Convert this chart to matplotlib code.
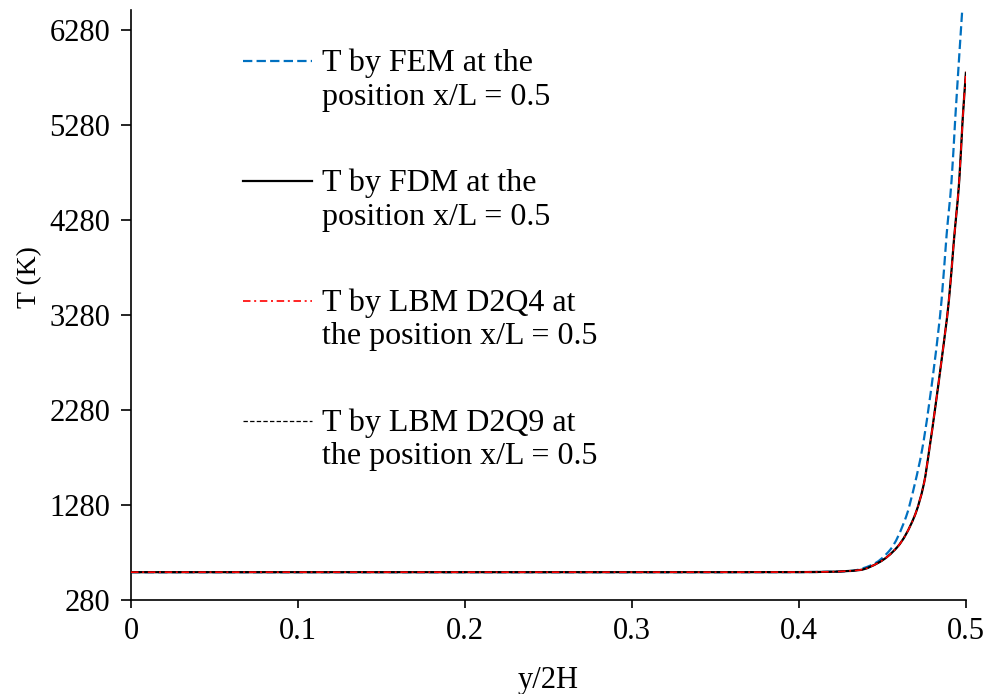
import matplotlib
matplotlib.use("Agg")
import numpy as np
import matplotlib.pyplot as plt
from matplotlib.lines import Line2D
from matplotlib.path import Path
from matplotlib.patches import PathPatch
from matplotlib.legend_handler import HandlerLine2D

plt.rcParams['font.family'] = ['Liberation Serif', 'DejaVu Serif']

# Temperature profiles along y/2H at x/L = 0.5
y_fdm = [0.0, 0.1, 0.2, 0.3, 0.4, 0.42, 0.4365, 0.4478, 0.4590, 0.4690, 0.4749,
         0.4780, 0.4854, 0.4898, 0.4928, 0.4960, 0.4980, 0.5]
t_fdm = [573, 573, 573, 573, 574, 578, 596, 675, 840, 1154, 1512,
         1859, 2806, 3438, 4069, 4701, 5333, 5840]

y_fem = [0.0, 0.1, 0.2, 0.3, 0.4, 0.42, 0.4305, 0.4435, 0.4545, 0.4641, 0.4695,
         0.4737, 0.4814, 0.4854, 0.4884, 0.4914, 0.4936, 0.4978]
t_fem = [573, 573, 573, 573, 574, 578, 585, 648, 806, 1154, 1512,
         1859, 2806, 3438, 4122, 4701, 5354, 6500]

y_d2q4 = y_fdm
t_d2q4 = [573, 573, 573, 573, 574, 578, 596, 675, 840, 1154, 1512,
          1859, 2806, 3438, 4069, 4701, 5333, 5840]

y_d2q9 = y_fdm
t_d2q9 = [573, 573, 573, 573, 574, 578, 596, 675, 840, 1154, 1512,
          1859, 2806, 3438, 4069, 4701, 5333, 5840]

labels = ["T by FEM at the\nposition x/L = 0.5",
          "T by FDM at the\nposition x/L = 0.5",
          "T by LBM D2Q4 at\nthe position x/L = 0.5",
          "T by LBM D2Q9 at\nthe position x/L = 0.5"]

x_ticks = [0, 0.1, 0.2, 0.3, 0.4, 0.5]
x_ticklabels = ["0", "0.1", "0.2", "0.3", "0.4", "0.5"]
y_ticks = [280, 1280, 2280, 3280, 4280, 5280, 6280]


def pchip_slopes(x, y):
    """Shape-preserving (Fritsch-Carlson) tangents at each point."""
    h = np.diff(x)
    d = np.diff(y) / h
    m = np.zeros_like(y)
    for i in range(1, len(x) - 1):
        if d[i - 1] * d[i] <= 0:
            m[i] = 0.0
        else:
            w1 = 2 * h[i] + h[i - 1]
            w2 = h[i] + 2 * h[i - 1]
            m[i] = (w1 + w2) / (w1 / d[i - 1] + w2 / d[i])
    m[0] = d[0]
    m[-1] = d[-1]
    return m


def smooth_path(xs, ys):
    """Smoothed Bezier path running through every data point."""
    x = np.asarray(xs, float)
    y = np.asarray(ys, float)
    m = pchip_slopes(x, y)
    verts = [(x[0], y[0])]
    codes = [Path.MOVETO]
    for i in range(len(x) - 1):
        h = x[i + 1] - x[i]
        verts += [(x[i] + h / 3, y[i] + m[i] * h / 3),
                  (x[i + 1] - h / 3, y[i + 1] - m[i + 1] * h / 3),
                  (x[i + 1], y[i + 1])]
        codes += [Path.CURVE4] * 3
    return Path(verts, codes)


styles = {
    'fem': dict(color='#0070C0', lw=1.6, ls=(0, (4.2, 1.9))),
    'fdm': dict(color='black', lw=1.6, ls='-'),
    'q9': dict(color='black', lw=0.9, ls=(0, (3.5, 1.8))),
    'q4': dict(color='red', lw=1.2, ls=(0, (4.5, 2.2, 1.2, 2.2))),
}

fig = plt.figure(figsize=(9.88, 6.94), dpi=100)
ax = fig.add_axes([0.1326, 0.1354, 0.8451, 0.8502])

series = [('fem', y_fem, t_fem, 3), ('fdm', y_fdm, t_fdm, 4),
          ('q9', y_d2q9, t_d2q9, 5), ('q4', y_d2q4, t_d2q4, 6)]
for key, xs, ys, z in series:
    st = styles[key]
    ax.add_patch(PathPatch(smooth_path(xs, ys), fill=False, edgecolor=st['color'],
                           lw=st['lw'], linestyle=st['ls'], zorder=z,
                           capstyle='butt', joinstyle='round'))

handles = [Line2D([], [], color=styles[k]['color'], lw=styles[k]['lw'],
                  linestyle=styles[k]['ls']) for k in ('fem', 'fdm', 'q4', 'q9')]

ax.set_xlim(0, 0.5)
ax.set_ylim(280, 6490)
ax.set_xticks(x_ticks)
ax.set_xticklabels(x_ticklabels)
ax.set_yticks(y_ticks)
ax.tick_params(axis='both', labelsize=22, direction='out', width=1.2,
               color='black')
ax.tick_params(axis='x', length=5.5, pad=7)
ax.tick_params(axis='y', length=7, pad=8)
for side in ('top', 'right'):
    ax.spines[side].set_visible(False)
for side in ('left', 'bottom'):
    ax.spines[side].set_linewidth(1.2)

ax.set_xlabel("y/2H", fontsize=22, labelpad=14)
ax.set_ylabel("T (K)", fontsize=20)
ax.yaxis.set_label_coords(-0.106, 0.547)


class RaisedLine(HandlerLine2D):
    """Legend line placed beside the first line of a two-line label."""

    def __init__(self, dy, **kw):
        super().__init__(**kw)
        self.dy = dy

    def create_artists(self, legend, orig_handle, xdescent, ydescent, width,
                       height, fontsize, trans):
        return super().create_artists(legend, orig_handle, xdescent,
                                      ydescent - 2 * self.dy, width, height,
                                      fontsize, trans)


leg = ax.legend(handles=handles, labels=labels,
                loc='upper left', bbox_to_anchor=(0.134, 0.934),
                frameon=False, fontsize=23, handlelength=2.17, handletextpad=0.3,
                labelspacing=1.78, borderpad=0, borderaxespad=0,
                handler_map={Line2D: RaisedLine(13.5)})

fig.savefig("out.png", dpi=100)
